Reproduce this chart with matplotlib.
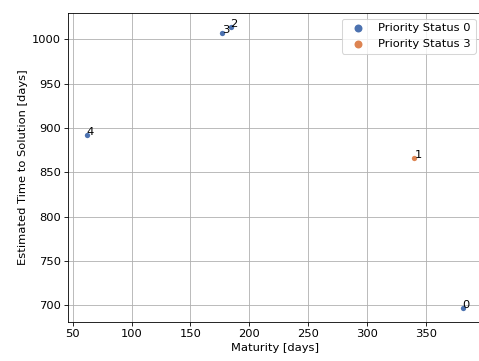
import matplotlib
matplotlib.use("Agg")
import matplotlib.pyplot as plt

# data
maturity = [381, 340, 184, 177, 62]
time_to_solution = [697, 866, 1014, 1007, 892]
priority = [0, 3, 0, 0, 0]
point_labels = ["0", "1", "2", "3", "4"]

colors = {0: "#4C72B0", 3: "#DD8452"}

plt.rcParams["font.size"] = 11

fig = plt.figure(figsize=(479 / 75, 361 / 75), dpi=75)
ax = fig.add_axes([0.142, 0.108, 0.863, 0.856])
ax.set_axisbelow(True)
ax.grid(True, color="#b0b0b0")

for p in sorted(set(priority)):
    xs = [m for m, q in zip(maturity, priority) if q == p]
    ys = [t for t, q in zip(time_to_solution, priority) if q == p]
    ax.scatter(xs, ys, s=26, color=colors[p], linewidths=0,
               label=f"Priority Status {p}")

for x, y, lab in zip(maturity, time_to_solution, point_labels):
    ax.text(x, y, lab)

ax.set_xlabel("Maturity [days]")
ax.set_ylabel("Estimated Time to Solution [days]")
ax.legend(loc="upper right", markerscale=1.5)

fig.savefig("out.png", dpi=75)
